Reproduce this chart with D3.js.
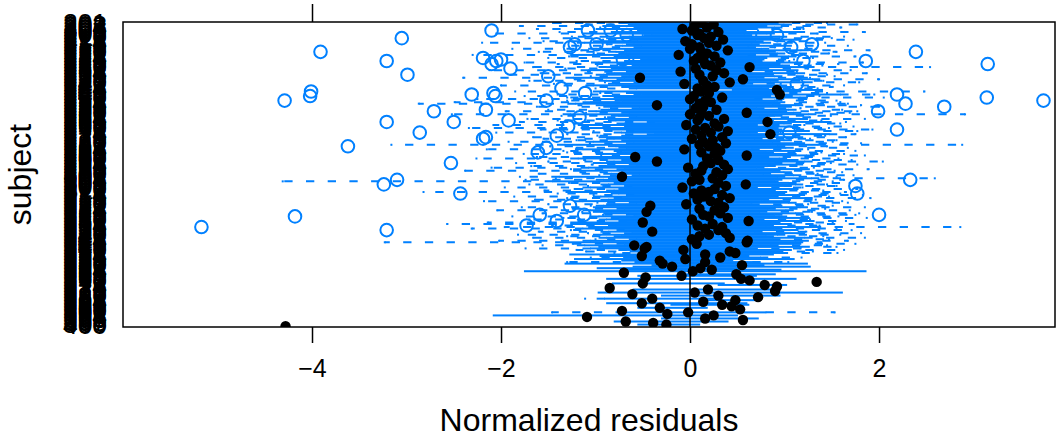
<!DOCTYPE html>
<html>
<head>
<meta charset="utf-8">
<script src="https://cdn.jsdelivr.net/npm/d3@7"></script>
<style>
  body { margin: 0; background: #fff; }
  svg { display: block; }
  text { font-family: "Liberation Sans", Arial, Helvetica, sans-serif; fill: #000; }
</style>
</head>
<body>
<div id="chart"></div>
<script>
// subjects, listed top to bottom
var subjects = [
  "201","202","203","204","205","206","207","208","209","210","211","212","213","214","215","216","217","218","219","220",
  "221","222","223","224","225","226","227","228","229","230","231","232","233","234","235","236","237","238","239","240",
  "241","242","243","244","245","246","247","248","249","250","251","252","253","254","255","256","257","258","259","260",
  "261","262","263","264","265","266","267","268","269","270","271","272","273","274","275","276","277","278","279","280",
  "281","282","283","284","285","286","287","288","289","290","291","292","293","294","295","296","297","298","299","300",
  "301","302","303","304","305","306","307","308","309","310","311","312","313","314","315","316","317","318","319","320",
  "321","322","323","324","325","326","327","328","329","330","331","332","333","334","335","336","337","338","339","340",
  "341","342","343","344","345","346","347","348","349","350","351","352","353","354","355","356","357","358","359","360",
  "361","362","363","364","365","366","367","368","369","370","371","372","373","374","375","376","377","378","379","380",
  "381","382","383","384","385","386","387","388","389","390","391","392","393","394","395","396","397","398","399","400"
];

var whiskerLow = [
  -1.45,-1.10,-1.80,-0.95,-1.62,-0.55,-1.38,-2.05,-0.50,-1.25,-1.70,-0.92,-1.55,-2.20,-0.88,-1.33,-0.95,-1.88,-1.15,-1.60,
  -1.02,-2.30,-1.28,-1.50,-0.60,-1.20,-1.75,-1.40,-0.98,-1.66,-1.32,-2.12,-1.08,-1.58,-1.90,-1.05,-2.40,-1.22,-1.70,-0.90,
  -1.44,-2.00,-1.12,-1.00,0.45,-1.85,-0.95,-1.40,-1.75,-1.30,-2.25,-1.30,-2.49,-2.87,-1.18,-1.62,-0.96,-1.50,-1.95,-1.10,
  -2.52,-1.36,-0.90,-1.72,-1.40,-1.80,-1.22,-2.08,-1.14,-2.34,-1.58,-1.02,-2.05,-1.30,-0.98,-1.66,-1.55,-1.20,-1.92,-1.06,
  -3.16,-1.48,-1.20,-2.15,-1.34,-1.30,-1.76,-0.94,-1.62,-2.26,-1.12,-1.50,-1.84,-1.04,-1.68,-2.10,-1.26,-2.38,-1.16,-1.60,
  -0.96,-1.80,-1.42,-1.74,-4.31,-1.28,-1.70,-1.08,-1.96,-1.22,-1.54,-2.82,-1.40,-1.02,-1.86,-1.30,-1.64,-2.18,-0.98,-1.50,
  -1.05,-1.78,-1.24,-2.04,-1.14,-1.56,-0.92,-1.88,-1.34,-1.70,-1.18,-2.14,-2.57,-1.42,-1.96,-2.31,-1.26,-1.60,-1.08,-1.82,
  -1.30,-1.66,-1.00,-2.02,-3.23,-1.24,-1.56,-0.96,-1.74,-1.20,-1.10,-0.80,-1.27,-0.95,-1.05,-1.22,-0.72,-1.30,-1.32,-0.40,
  -0.60,-0.98,-0.66,-1.75,-0.70,-0.12,-0.55,-0.47,-0.88,0.63,1.34,-0.82,0.30,0.92,-0.85,-0.60,0.90,-0.97,-0.61,-0.30,
  0.72,-1.11,0.10,0.14,-0.88,-0.20,0.44,-0.55,0.53,-0.72,-1.46,-0.24,-2.08,-1.09,-0.30,0.56,-0.80,-0.39,-0.55,-4.28
];

var boxLow = [
  -0.67,-0.57,-0.84,-0.51,-0.91,-0.48,-0.75,-1.05,-0.40,-0.64,-0.80,-0.55,-0.94,-1.11,-0.59,-0.71,-0.51,-0.99,-0.61,-0.78,
  -0.67,-1.18,-0.72,-0.86,-0.44,-0.61,-0.96,-0.69,-0.53,-0.88,-0.75,-1.07,-0.59,-0.80,-0.91,-0.64,-1.23,-0.69,-0.88,-0.51,
  -0.78,-1.02,-0.64,-0.56,0.45,-0.94,-0.59,-0.51,-0.84,-0.72,-1.15,-0.71,-1.05,-1.21,-0.91,-0.83,-0.53,-0.86,-0.99,-0.64,
  -1.26,-0.75,-0.56,-0.91,-0.78,-0.37,-0.69,-1.10,-0.61,-1.07,-0.83,-0.59,-0.72,-0.37,-0.64,-0.88,-0.80,-0.64,-1.02,-0.59,
  -1.32,-0.78,-0.67,-1.13,-0.72,-0.69,-0.91,-0.51,-1.05,-1.18,-0.64,-0.80,-0.94,-0.56,-0.88,-1.07,-0.69,-1.15,-0.64,-0.83,
  -0.53,-1.38,-0.78,-0.91,-1.45,-0.72,-0.86,-0.61,-1.05,-0.67,-0.80,-1.23,-0.75,-0.59,-0.94,-0.72,-0.86,-1.13,-0.56,-0.80,
  -0.91,-0.94,-0.69,-1.05,-0.94,-0.83,-0.59,-0.96,-0.75,-0.88,-0.67,-1.18,-1.18,-0.78,-0.99,-1.13,-0.69,-0.86,-0.61,-0.94,
  -0.72,-0.88,-0.56,-1.05,-1.34,-0.69,-1.11,-0.91,-1.05,-0.67,-0.55,-0.40,-1.27,-0.95,-0.62,-1.22,-0.72,-0.50,-1.32,-0.40,
  -0.60,-0.98,-0.66,-1.75,-0.70,-0.12,-0.55,-0.47,-0.88,0.63,1.34,-0.82,0.30,0.92,-0.85,-0.60,0.90,-0.97,-0.61,-0.30,
  0.72,-0.90,0.10,0.14,-0.88,-0.20,0.44,-0.55,0.53,-0.72,-0.70,-0.24,-2.08,-1.09,-0.30,0.56,-0.80,-0.39,-0.55,-4.28
];

var medians = [
  0.12,0.25,0.05,0.18,-0.08,0.02,0.30,0.10,0.08,0.22,0.15,0.35,-0.05,0.20,0.02,0.28,0.10,0.00,0.40,0.12,
  0.18,-0.12,0.26,0.08,0.14,0.04,0.32,0.16,0.22,0.63,0.06,0.28,-0.10,0.36,0.10,0.24,-0.53,0.56,0.14,0.42,
  -0.06,0.18,0.26,0.08,0.92,0.12,0.20,0.95,0.04,0.34,0.00,0.16,0.22,0.10,-0.35,0.14,0.06,0.28,0.12,0.60,
  0.00,0.20,0.10,0.36,0.08,0.82,0.26,-0.04,0.30,0.16,0.06,0.40,0.22,0.85,0.12,0.34,0.02,0.24,0.14,0.38,
  0.10,0.20,0.28,-0.06,0.32,0.12,0.26,0.60,-0.58,0.18,0.30,-0.35,0.22,0.36,0.14,-0.02,0.40,0.12,0.28,0.06,
  0.34,-0.72,0.24,0.10,0.02,0.30,0.59,0.38,-0.08,0.26,0.12,0.20,0.04,0.34,0.14,0.42,0.08,0.22,0.30,-0.04,
  -0.42,0.36,0.10,0.26,-0.46,0.32,0.14,0.20,0.40,0.02,0.62,-0.50,0.24,0.08,0.34,0.16,0.30,-0.40,0.38,0.20,
  0.10,0.42,0.02,0.61,0.60,0.07,-0.59,-0.46,-0.48,-0.07,0.42,0.48,0.16,-0.51,0.32,-0.05,-0.32,0.16,-0.29,0.55,
  -0.19,0.11,0.23,0.03,-0.70,0.49,-0.09,-0.47,0.54,0.63,1.34,-0.50,0.79,0.92,-0.85,0.19,0.90,0.05,-0.61,0.30,
  0.72,-0.40,0.48,0.14,-0.51,0.34,0.44,-0.32,0.53,-0.72,-0.02,-0.24,0.25,-1.09,0.16,0.56,-0.68,-0.39,-0.25,-4.28
];

var boxHigh = [
  0.85,0.99,0.73,0.89,0.63,0.51,1.13,0.81,0.57,0.94,0.87,1.09,0.69,0.77,0.65,0.99,0.61,0.75,1.17,0.82,
  0.92,0.61,1.04,0.73,0.70,0.68,1.11,0.87,0.97,1.23,0.75,1.06,0.56,1.13,0.80,0.89,0.70,1.29,0.85,1.21,
  0.58,0.94,1.01,0.75,1.40,1.09,0.82,1.59,0.77,1.16,0.68,0.89,0.92,0.87,1.11,0.99,0.70,1.04,0.94,1.09,
  1.25,0.89,0.73,1.16,0.80,1.41,0.99,0.63,1.06,0.85,0.89,1.18,0.63,1.47,0.85,1.11,0.68,0.99,0.87,1.13,
  1.35,0.92,1.01,0.65,1.09,0.80,1.04,1.23,0.75,0.94,1.06,1.21,0.89,1.11,0.82,0.70,1.18,0.87,0.99,0.77,
  1.09,0.92,1.28,0.89,0.85,1.04,1.11,0.99,0.63,1.06,0.82,0.94,0.92,1.13,0.85,1.21,0.75,0.97,1.04,0.65,
  0.89,1.16,0.82,1.01,0.73,1.11,0.89,0.94,1.18,0.70,1.23,0.87,0.99,0.80,1.30,0.89,1.06,0.68,1.13,0.92,
  0.80,1.21,0.87,1.17,1.11,1.09,0.85,1.18,0.63,0.99,0.90,0.95,0.88,0.62,0.74,1.10,0.45,0.66,1.24,0.78,
  1.27,0.52,0.96,1.86,-0.70,0.90,0.70,-0.47,1.12,0.63,1.34,0.36,1.02,0.92,-0.85,0.86,0.90,1.61,-0.61,0.95,
  0.72,0.30,0.68,0.14,0.60,0.62,0.44,0.18,0.53,-0.72,0.80,-0.24,0.50,-1.09,0.72,0.56,0.40,-0.39,0.10,-4.28
];

var whiskerHigh = [
  1.45,1.77,1.27,1.60,1.20,0.72,1.85,1.35,0.70,1.63,1.50,1.73,1.23,1.43,1.00,1.67,0.90,1.33,1.90,1.55,
  1.47,1.17,1.75,1.30,1.10,1.05,1.83,1.57,1.40,2.54,1.25,1.70,1.13,1.87,1.45,1.53,1.27,2.00,1.41,1.79,
  0.96,1.63,1.51,1.35,1.40,2.48,1.45,1.95,1.37,2.05,1.23,1.55,1.59,1.67,1.81,2.00,1.17,1.61,1.77,1.69,
  2.91,1.49,1.27,1.85,1.39,1.65,1.59,1.21,1.73,1.47,1.93,1.77,0.96,1.75,1.43,1.65,1.27,1.55,1.51,1.81,
  2.88,1.45,1.67,1.25,1.75,1.39,1.63,1.85,1.29,1.57,1.71,2.04,1.49,1.77,1.37,1.31,1.89,1.53,1.61,1.35,
  1.73,1.55,2.59,1.63,1.51,1.69,1.45,1.55,1.19,1.77,1.41,1.65,1.59,1.83,1.47,1.91,1.33,1.61,1.67,1.25,
  1.51,1.85,1.43,1.69,1.29,1.79,1.75,1.57,1.87,1.27,1.65,1.51,1.73,1.37,2.86,1.55,1.71,1.23,1.81,1.59,
  1.41,1.85,1.47,1.67,1.39,1.75,1.45,1.55,1.17,1.63,1.30,1.56,0.88,0.62,1.18,1.10,0.45,1.04,1.24,0.78,
  1.27,0.52,0.96,1.86,-0.70,0.90,0.70,-0.47,1.12,0.63,1.34,0.36,1.02,0.92,-0.85,0.86,0.90,1.61,-0.61,0.95,
  0.72,0.30,0.68,0.14,0.60,0.62,0.44,0.18,0.53,-0.72,1.53,-0.24,0.50,-1.09,0.72,0.56,0.40,-0.39,0.10,-4.28
];

// outlying residuals: row of the subject (top = 0) and value
var outlierRow = [
  5,5,5,8,8,10,14,14,14,16,16,19,19,23,24,24,25,25,25,25,27,27,30,34,35,40,43,45,46,46,47,47,48,48,49,51,51,51,
  53,55,57,58,58,62,64,65,65,68,70,72,72,74,75,76,81,82,85,92,103,103,106,107,112,112,120,126,126,126,127,130,133,134,136
];
var outlierValue = [
  -2.10,-1.08,-0.84,-0.67,0.92,-3.05,-1.22,-0.99,1.29,-1.27,1.07,-3.91,2.39,-2.19,-2.00,-0.71,-3.21,-2.05,1.20,1.86,-2.10,3.15,-1.90,-2.99,-1.50,1.13,-1.36,-4.01,-2.08,-1.11,-2.31,2.19,-4.02,-2.06,3.14,-4.29,-1.52,3.74,
  2.28,2.69,-2.16,-2.71,1.99,-1.17,-1.92,-2.50,-3.21,-1.29,2.19,-2.86,1.05,-1.41,-2.16,-2.19,-3.62,-1.52,-1.61,-2.53,-3.10,2.33,-3.24,1.75,-2.43,1.77,-1.27,-1.59,-1.12,2.00,-4.18,-1.41,-1.73,-5.17,-3.21
];

var xTicks = [-4, -2, 0, 2];
var xDomain = [-6.0, 3.862];

var blue = "#0080ff";
var W = 1057, H = 437;
var panelLeft = 123, panelRight = 1055, panelTop = 22, panelBottom = 327;

var svg = d3.select("#chart").append("svg")
    .attr("width", W).attr("height", H);

var x = d3.scaleLinear().domain(xDomain).range([panelLeft, panelRight]);
var y = d3.scalePoint().domain(subjects).range([panelTop, panelBottom]).padding(0.6);

svg.append("defs").append("clipPath").attr("id", "panel")
  .append("rect").attr("x", panelLeft).attr("y", panelTop)
  .attr("width", panelRight - panelLeft).attr("height", panelBottom - panelTop);

var panel = svg.append("g").attr("clip-path", "url(#panel)");

var rows = subjects.map(function (s, i) {
  return {id: s, lo: whiskerLow[i], q1: boxLow[i], med: medians[i], q3: boxHigh[i], hi: whiskerHigh[i]};
});

// whiskers (dashed, starting from the box)
rows.forEach(function (d) {
  var yy = y(d.id);
  [[d.q1, d.lo], [d.q3, d.hi]].forEach(function (w) {
    if (w[0] === w[1]) return;
    panel.append("line")
      .attr("x1", x(w[0])).attr("x2", x(w[1]))
      .attr("y1", yy).attr("y2", yy)
      .attr("stroke", blue).attr("stroke-width", 2)
      .attr("stroke-dasharray", "8.3,13.4");
    panel.append("rect")
      .attr("x", x(w[1]) - 1).attr("y", yy - 1)
      .attr("width", 2).attr("height", 2)
      .attr("fill", blue);
  });
});

// boxes
panel.selectAll("rect.box").data(rows).enter().append("rect")
  .attr("class", "box")
  .attr("x", function (d) { return x(d.q1); })
  .attr("y", function (d) { return y(d.id) - 0.3; })
  .attr("width", function (d) { return x(d.q3) - x(d.q1); })
  .attr("height", 0.6)
  .attr("fill", blue)
  .attr("stroke", blue).attr("stroke-width", 1.4);

// zero reference line
panel.append("line")
  .attr("x1", x(0)).attr("x2", x(0))
  .attr("y1", panelTop).attr("y2", panelBottom)
  .attr("stroke", "#000").attr("stroke-width", 1.5);

// medians
panel.selectAll("circle.med").data(rows).enter().append("circle")
  .attr("class", "med")
  .attr("cx", function (d) { return x(d.med); })
  .attr("cy", function (d) { return y(d.id); })
  .attr("r", 5.2)
  .attr("fill", "#000");

// outliers
panel.selectAll("circle.out").data(outlierValue).enter().append("circle")
  .attr("class", "out")
  .attr("cx", function (v) { return x(v); })
  .attr("cy", function (v, i) { return y(subjects[outlierRow[i]]); })
  .attr("r", 6.3)
  .attr("fill", "none")
  .attr("stroke", blue).attr("stroke-width", 2);

// frame
svg.append("rect")
  .attr("x", panelLeft).attr("y", panelTop)
  .attr("width", panelRight - panelLeft).attr("height", panelBottom - panelTop)
  .attr("fill", "none").attr("stroke", "#000").attr("stroke-width", 1.5);

// x axes
var xb = svg.append("g").attr("transform", "translate(0," + panelBottom + ")")
  .call(d3.axisBottom(x).tickValues(xTicks).tickSize(16).tickFormat(d3.format("d")));
xb.select(".domain").remove();
xb.selectAll("line").attr("stroke-width", 1.5);
xb.selectAll("text").attr("y", 50).attr("dy", 0)
  .style("font-size", "25px").attr("font-family", null);

var xt = svg.append("g").attr("transform", "translate(0," + panelTop + ")")
  .call(d3.axisTop(x).tickValues(xTicks).tickSize(18).tickFormat(""));
xt.select(".domain").remove();
xt.selectAll("line").attr("stroke-width", 1.5);

// y axis labels
var ya = svg.append("g").attr("transform", "translate(" + panelLeft + ",0)")
  .call(d3.axisLeft(y).tickSize(0).tickPadding(16));
ya.select(".domain").remove();
ya.selectAll("text")
  .style("font-size", "24px").attr("font-family", null)
  .attr("textLength", 44).attr("lengthAdjust", "spacingAndGlyphs");

// titles
svg.append("text")
  .attr("x", (panelLeft + panelRight) / 2).attr("y", 431)
  .attr("text-anchor", "middle")
  .style("font-size", "32px")
  .text("Normalized residuals");

svg.append("text")
  .attr("transform", "translate(31," + ((panelTop + panelBottom) / 2) + ") rotate(-90)")
  .attr("text-anchor", "middle")
  .style("font-size", "32px")
  .text("subject");
</script>
</body>
</html>
